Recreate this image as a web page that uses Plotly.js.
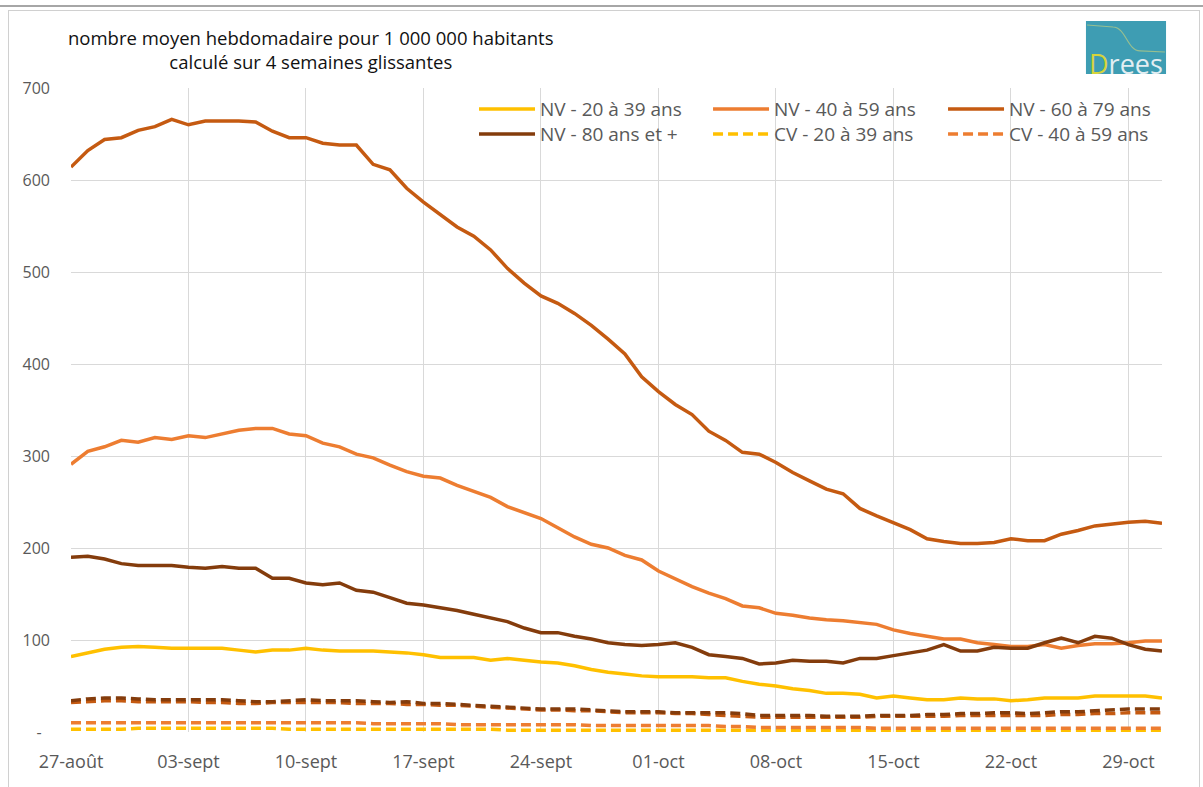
<!DOCTYPE html>
<html>
<head>
<meta charset="utf-8">
<script src="https://cdn.plot.ly/plotly-3.0.1.min.js"></script>
<style>
  html, body { margin: 0; padding: 0; background: #ffffff; }
  #wrap { position: relative; width: 1203px; height: 787px; overflow: hidden; }
  #chart { position: absolute; left: 0; top: 0; width: 1203px; height: 787px; }
  #topline { position: absolute; left: 0; top: 5px; width: 1203px; height: 2px; background: #a6a6a6; pointer-events: none; }
  #frame { position: absolute; left: 8px; top: 10px; width: 1190px; height: 780px; border: 1px solid #d0d0d0; pointer-events: none; }
</style>
</head>
<body>
<div id="wrap">
  <div id="chart"></div>
  <div id="topline"></div>
  <div id="frame"></div>
</div>
<script>
const dates = [
  '2021-08-27','2021-08-28','2021-08-29','2021-08-30','2021-08-31',
  '2021-09-01','2021-09-02','2021-09-03','2021-09-04','2021-09-05','2021-09-06','2021-09-07','2021-09-08','2021-09-09','2021-09-10',
  '2021-09-11','2021-09-12','2021-09-13','2021-09-14','2021-09-15','2021-09-16','2021-09-17','2021-09-18','2021-09-19','2021-09-20',
  '2021-09-21','2021-09-22','2021-09-23','2021-09-24','2021-09-25','2021-09-26','2021-09-27','2021-09-28','2021-09-29','2021-09-30',
  '2021-10-01','2021-10-02','2021-10-03','2021-10-04','2021-10-05','2021-10-06','2021-10-07','2021-10-08','2021-10-09','2021-10-10',
  '2021-10-11','2021-10-12','2021-10-13','2021-10-14','2021-10-15','2021-10-16','2021-10-17','2021-10-18','2021-10-19','2021-10-20',
  '2021-10-21','2021-10-22','2021-10-23','2021-10-24','2021-10-25','2021-10-26','2021-10-27','2021-10-28','2021-10-29','2021-10-30',
  '2021-10-31'
];

const nv2039 = [82,86,90,92,93,92,91,91,91,91, 89,87,89,89,91,89,88,88,88,87, 86,84,81,81,81,78,80,78,76,75,
                72,68,65,63,61,60,60,60,59,59, 55,52,50,47,45,42,42,41,37,39, 37,35,35,37,36,36,34,35,37,37,
                37,39,39,39,39,37];
const nv4059 = [291,305,310,317,315,320,318,322,320,324, 328,330,330,324,322,314,310,302,298,290,
                283,278,276,268,261,255,245,239,232,222, 212,204,200,192,187,175,166,158,151,145,
                137,135,129,127,124,122,121,119,117,111, 107,104,101,101,97,95,93,93,95,91,
                94,96,96,97,99,99];
const nv6079 = [614,632,644,646,654,658,666,660,664,664, 664,663,653,646,646,640,638,638,617,611,
                591,576,563,549,539,524,504,488,474,466, 455,442,427,411,386,370,356,345,327,317,
                304,302,293,282,273,264,259,243,235,228, 220,210,207,205,205,206,210,208,208,215,
                219,224,226,228,229,227];
const nv80 = [190,191,188,183,181,181,181,179,178,180, 178,178,167,167,162,160,162,154,152,146,
              140,138,135,132,128,124,120,113,108,108, 104,101,97,95,94,95,97,92,84,82,
              80,74,75,78,77,77,75,80,80,83, 86,89,95,88,88,92,91,91,97,102,
              97,104,102,95,90,88];
const cv2039 = [3,3,3,3,4,4,4,4,4,4, 4,4,4,3,3,3,3,3,3,3, 3,3,3,3,3,3,2,2,2,2,
                2,2,2,2,2,2,2,2,2,2, 2,2,2,2,2,2,2,2,2,2, 1,1,1,1,1,1,1,1,1,1, 1,1,1,1,1,1];
const cv4059 = [10,10,10,10,10,10,10,10,10,10, 10,10,10,10,10,10,10,10,9,9, 9,9,9,8,8,8,8,8,8,8,
                8,7,7,7,7,7,7,7,7,6, 6,5,5,5,5,5,5,5,4,4, 4,4,4,4,4,4,4,4,4,4, 4,4,4,4,4,4];
const cv6079 = [32,33,34,34,33,33,33,33,32,32, 31,31,32,32,32,32,32,31,31,31, 30,30,29,29,28,27,26,25,24,24,
                23,23,22,21,21,21,20,20,19,18, 17,16,16,16,16,16,16,16,17,17, 17,17,17,18,18,18,18,18,18,19,
                19,20,20,21,21,21];
const cv80 = [34,36,37,37,36,35,35,35,35,35, 34,33,33,34,35,34,34,34,33,32, 33,31,31,30,29,28,27,26,25,25,
              25,24,23,22,22,22,21,21,21,21, 20,18,18,18,18,17,17,17,18,18, 18,19,19,20,20,21,21,20,21,22,
              22,23,24,25,25,25];

const seriesNames = ['NV - 20 à 39 ans','NV - 40 à 59 ans','NV - 60 à 79 ans','NV - 80 ans et +',
                     'CV - 20 à 39 ans','CV - 40 à 59 ans','CV - 60 à 79 ans','CV - 80 ans et +'];

const xTickVals = ['2021-08-27','2021-09-03','2021-09-10','2021-09-17','2021-09-24',
                   '2021-10-01','2021-10-08','2021-10-15','2021-10-22','2021-10-29'];
const xTickText = ['27-août','03-sept','10-sept','17-sept','24-sept','01-oct','08-oct','15-oct','22-oct','29-oct'];
const yTickVals = [0,100,200,300,400,500,600,700];
const yTickText = ['-\u00a0\u00a0','100','200','300','400','500','600','700'];

const C1 = '#FFC000', C2 = '#ED7D31', C3 = '#C55A11', C4 = '#843C0C';
const FONT = 'Open Sans, Lato, sans-serif';
const LW = 3.5;
const DASH = '10px,5px';

function tr(y, name, color, dash, legend, show) {
  return {
    x: dates, y: y, name: name, type: 'scatter', mode: 'lines',
    line: {color: color, width: LW, dash: dash},
    legend: legend, showlegend: show, hoverinfo: 'skip'
  };
}

// one legend per entry, laid out as a 3 x 2 grid
const data = [
  tr(nv2039, seriesNames[0], C1, 'solid', 'legend', true),
  tr(nv4059, seriesNames[1], C2, 'solid', 'legend2', true),
  tr(nv6079, seriesNames[2], C3, 'solid', 'legend3', true),
  tr(nv80,   seriesNames[3], C4, 'solid', 'legend4', true),
  tr(cv2039, seriesNames[4], C1, DASH, 'legend5', true),
  tr(cv4059, seriesNames[5], C2, DASH, 'legend6', true),
  tr(cv6079, seriesNames[6], C3, DASH, 'legend6', false),
  tr(cv80,   seriesNames[7], C4, DASH, 'legend6', false)
];

const legendCommon = {
  orientation: 'v', xanchor: 'left', yanchor: 'top',
  bgcolor: 'rgba(255,255,255,0)', borderwidth: 0,
  font: {family: FONT, size: 19, color: '#595959'},
  itemwidth: 56, tracegroupgap: 0,
  traceorder: 'normal', itemclick: false, itemdoubleclick: false
};
const COLX = [0.3694, 0.5839, 0.7993];
const ROWY = [0.9967, 0.9579];

const layout = {
  width: 1203, height: 787,
  margin: {l: 71, r: 41, t: 88, b: 55, pad: 0},
  paper_bgcolor: '#ffffff', plot_bgcolor: '#ffffff',
  showlegend: true,
  font: {family: FONT, color: '#595959'},
  xaxis: {
    type: 'date', range: ['2021-08-27', '2021-10-31'],
    tickmode: 'array', tickvals: xTickVals, ticktext: xTickText,
    showgrid: true, gridcolor: '#d9d9d9', gridwidth: 1,
    zeroline: false, showline: false, ticks: '', ticklabelstandoff: 17,
    tickfont: {family: FONT, size: 18, color: '#595959'}, fixedrange: true
  },
  yaxis: {
    range: [0, 700], tickmode: 'array', tickvals: yTickVals, ticktext: yTickText,
    showgrid: true, gridcolor: '#d9d9d9', gridwidth: 1,
    zeroline: false, showline: false, ticks: '', ticklabelstandoff: 20,
    tickfont: {family: FONT, size: 16, color: '#595959'}, fixedrange: true
  },
  legend:  Object.assign({}, legendCommon, {x: COLX[0], y: ROWY[0]}),
  legend2: Object.assign({}, legendCommon, {x: COLX[1], y: ROWY[0]}),
  legend3: Object.assign({}, legendCommon, {x: COLX[2], y: ROWY[0]}),
  legend4: Object.assign({}, legendCommon, {x: COLX[0], y: ROWY[1]}),
  legend5: Object.assign({}, legendCommon, {x: COLX[1], y: ROWY[1]}),
  legend6: Object.assign({}, legendCommon, {x: COLX[2], y: ROWY[1]}),
  annotations: [
    {
      xref: 'paper', yref: 'paper', x: 0.22, y: 1.0598, xanchor: 'center', yanchor: 'middle',
      showarrow: false, align: 'center',
      text: 'nombre moyen hebdomadaire pour 1 000 000 habitants<br>calculé sur 4 semaines glissantes',
      font: {family: FONT, size: 18.5, color: '#111111'}
    },
    {
      xref: 'paper', yref: 'paper', x: 0.967, y: 1.0373, xanchor: 'center', yanchor: 'middle',
      showarrow: false,
      text: '<span style="color:#d6d43a">D</span>rees',
      font: {family: FONT, size: 27, color: '#e3eef2'}
    }
  ],
  shapes: [
    {
      type: 'rect', xref: 'paper', yref: 'paper', layer: 'below',
      x0: 0.9303, x1: 1.0037, y0: 1.0217, y1: 1.104,
      fillcolor: '#3e9db3', line: {width: 0}
    },
    {
      type: 'path', xref: 'paper', yref: 'paper', layer: 'above',
      path: 'M 0.9313,1.0978 L 0.9551,1.0947 C 0.967,1.094 0.968,1.058 0.9798,1.0575 L 1.0027,1.0559',
      line: {color: 'rgba(190,205,130,0.7)', width: 1.2}
    }
  ]
};

Plotly.newPlot('chart', data, layout, {displayModeBar: false, staticPlot: true});
</script>
</body>
</html>
